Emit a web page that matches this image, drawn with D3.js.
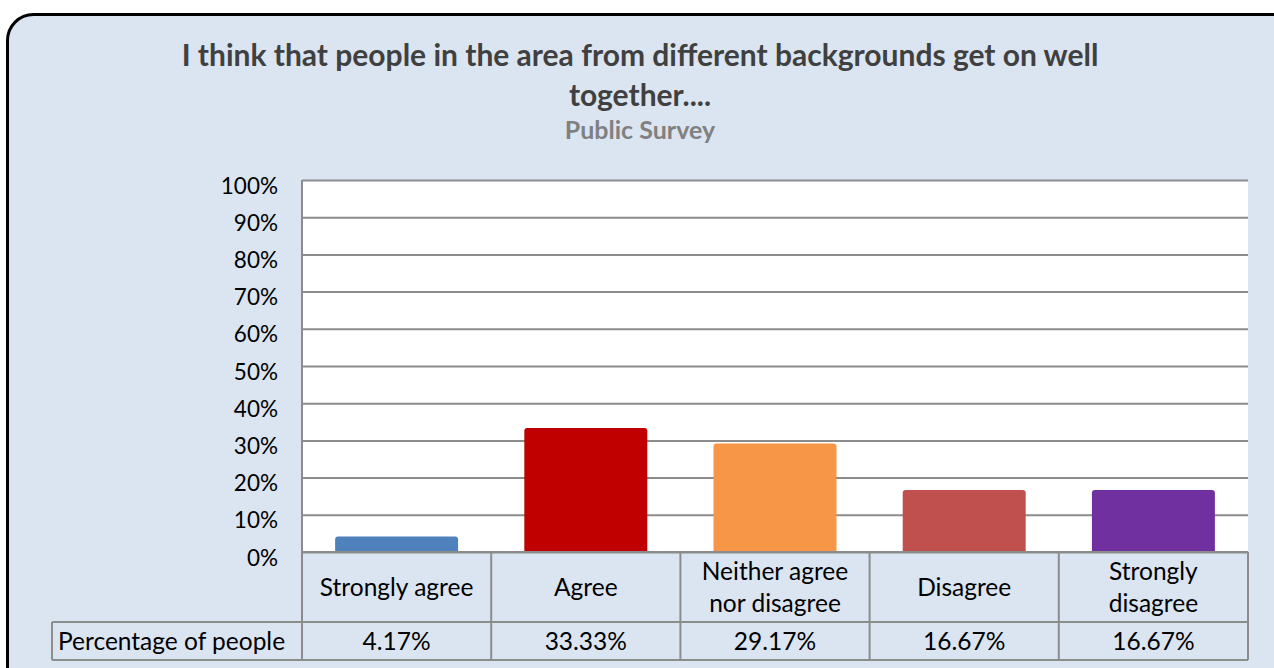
<!DOCTYPE html>
<html><head><meta charset="utf-8">
<script src="https://cdn.jsdelivr.net/npm/d3@7"></script>
<style>html,body{margin:0;padding:0;background:#fff;overflow:hidden}svg{display:block}</style>
</head><body>
<script>
const categories = ["Strongly agree", "Agree", "Neither agree nor disagree", "Disagree", "Strongly disagree"];
const categoryLines = [["Strongly agree"], ["Agree"], ["Neither agree", "nor disagree"], ["Disagree"], ["Strongly", "disagree"]];
const values = [4.17, 33.33, 29.17, 16.67, 16.67];
const valueLabels = ["4.17%", "33.33%", "29.17%", "16.67%", "16.67%"];
const colors = ["#4f81bd", "#c00000", "#f79646", "#c0504d", "#7030a0"];
const yTicks = [0, 10, 20, 30, 40, 50, 60, 70, 80, 90, 100];
const seriesName = "Percentage of people";
const titleLines = ["I think that people in the area from different backgrounds get on well", "together...."];
const subtitle = "Public Survey";

const W = 1274, H = 668;
const font = "Lato, 'Open Sans', sans-serif";
const svg = d3.select("body").append("svg").attr("width", W).attr("height", H);

svg.append("rect").attr("x", 7.5).attr("y", 14.5).attr("width", 1290).attr("height", 680)
  .attr("rx", 26).attr("fill", "#dbe5f1").attr("stroke", "#000").attr("stroke-width", 3);

const tg = svg.append("g").attr("font-family", font).attr("font-weight", "bold").attr("text-anchor", "middle");
titleLines.forEach((t, i) => tg.append("text").attr("x", 640).attr("y", 66 + i * 40)
  .attr("font-size", 30).attr("fill", "#404040").text(t));
tg.append("text").attr("x", 640).attr("y", 139).attr("font-size", 25).attr("fill", "#808080").text(subtitle);

const L = 302, R = 1248, T = 180, B = 552;
const x = d3.scaleBand().domain(categories).range([L, R]).paddingInner(0.35).paddingOuter(0.175);
const xc = d3.scaleBand().domain(categories).range([L, R]);
const y = d3.scaleLinear().domain([0, 100]).range([B, T]);

svg.append("rect").attr("x", L).attr("y", T).attr("width", R - L).attr("height", B - T).attr("fill", "#fff");

const yAxis = d3.axisLeft(y).tickValues(yTicks).tickFormat(d => d + "%").tickSize(-(R - L)).tickPadding(24);
const ya = svg.append("g").attr("transform", `translate(${L},0)`).call(yAxis);
ya.select(".domain").attr("stroke", "#8c8c8c").attr("stroke-width", 2).attr("d", `M0,${T}V${B}`);
ya.selectAll(".tick line").attr("stroke", "#8c8c8c").attr("stroke-width", 2);
ya.selectAll(".tick text").attr("font-family", font).attr("font-size", 22.5).attr("fill", "#000").attr("dy", "0.58em");

svg.append("g").selectAll("path").data(categories).join("path")
  .attr("fill", (d, i) => colors[i])
  .attr("d", (d, i) => {
    const x0 = x(d), w = x.bandwidth(), y0 = y(values[i]), r = 3;
    return `M${x0},${B}V${y0 + r}Q${x0},${y0} ${x0 + r},${y0}H${x0 + w - r}Q${x0 + w},${y0} ${x0 + w},${y0 + r}V${B}Z`;
  });

// data table
const rowTop = B, rowMid = 622, rowBot = 660, tableL = 52;
const lg = svg.append("g").attr("stroke", "#8c8c8c").attr("stroke-width", 2).attr("fill", "none");
lg.append("line").attr("x1", L).attr("x2", R).attr("y1", rowTop).attr("y2", rowTop);
lg.append("line").attr("x1", tableL).attr("x2", R).attr("y1", rowMid).attr("y2", rowMid);
lg.append("line").attr("x1", tableL).attr("x2", R).attr("y1", rowBot).attr("y2", rowBot);
lg.append("line").attr("x1", tableL).attr("x2", tableL).attr("y1", rowMid).attr("y2", rowBot);
const edges = categories.map(c => xc(c)).concat([R]);
edges.forEach(e => lg.append("line").attr("x1", e).attr("x2", e).attr("y1", rowTop).attr("y2", rowBot));

const txt = svg.append("g").attr("font-family", font).attr("font-size", 24.5).attr("fill", "#000").attr("text-anchor", "middle");
categories.forEach((c, i) => {
  const lines = categoryLines[i];
  const cx = xc(c) + xc.bandwidth() / 2;
  const midY = (rowTop + rowMid) / 2;
  lines.forEach((ln, j) => {
    txt.append("text").attr("x", cx).attr("y", midY + (j - (lines.length - 1) / 2) * 32).attr("dy", "0.35em").text(ln);
  });
  txt.append("text").attr("x", cx).attr("y", (rowMid + rowBot) / 2).attr("dy", "0.35em").text(valueLabels[i]);
});
txt.append("text").attr("x", 58).attr("y", (rowMid + rowBot) / 2).attr("dy", "0.35em").attr("text-anchor", "start").text(seriesName);
</script>
</body></html>
